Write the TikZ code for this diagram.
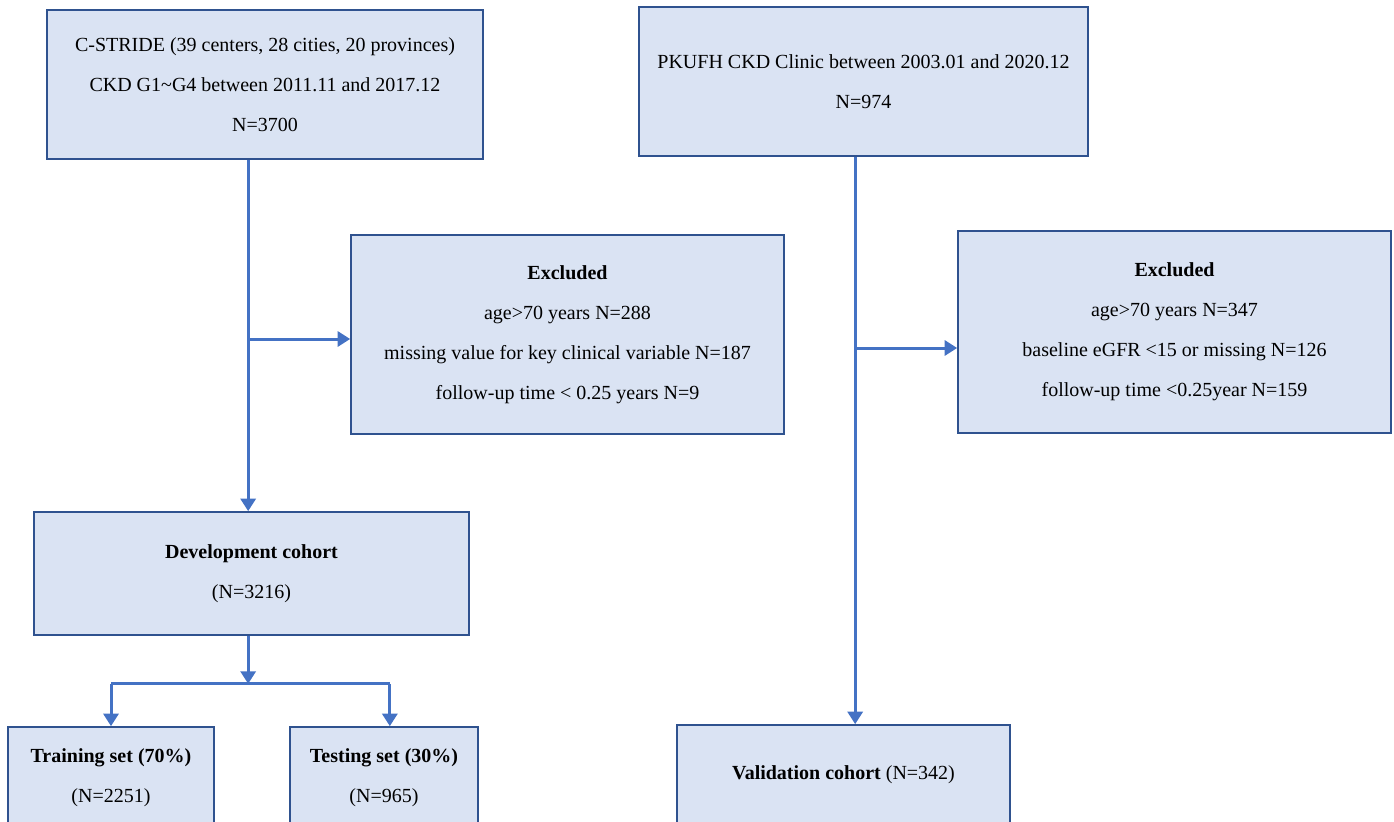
\documentclass[tikz,border=0pt]{standalone}
\usepackage{fontspec}
\setmainfont{Liberation Serif}
\usetikzlibrary{arrows.meta}
\definecolor{boxfill}{HTML}{DAE3F3}
\definecolor{boxline}{HTML}{2F528F}
\definecolor{arrline}{HTML}{4472C4}
\tikzset{
  box/.style={draw=boxline,line width=1pt,fill=boxfill,align=center,
    font=\fontsize{12}{24}\selectfont,inner sep=2pt},
  arr/.style={draw=arrline,line width=1.8pt,-{Triangle[length=7.5pt,width=9pt]}},
  seg/.style={draw=arrline,line width=1.8pt}
}
\begin{document}
\begin{tikzpicture}[x=0.6pt,y=-0.6pt]
  \clip (0,0) rectangle (1394,822);
  % source boxes
  \node[box,minimum width=261.6pt,minimum height=89.4pt] (cstride) at (265,84.5)
    {C-STRIDE (39 centers, 28 cities, 20 provinces)\\CKD G1\textasciitilde G4 between 2011.11 and 2017.12\\N=3700};
  \node[box,minimum width=269.4pt,minimum height=89.4pt] (pkufh) at (863.5,81.5)
    {PKUFH CKD Clinic between 2003.01 and 2020.12\\N=974};
  % excluded boxes
  \node[box,minimum width=259.8pt,minimum height=119.4pt] (exclA) at (567.5,334.5)
    {\textbf{Excluded}\\age>70 years N=288\\missing value for key clinical variable N=187\\follow-up time < 0.25 years N=9};
  \node[box,minimum width=259.8pt,minimum height=121.2pt] (exclB) at (1174.5,332)
    {\textbf{Excluded}\\age>70 years N=347\\baseline eGFR <15 or missing N=126\\follow-up time <0.25year N=159};
  % cohorts
  \node[box,minimum width=261pt,minimum height=73.8pt] (dev) at (251.5,573.5)
    {\textbf{Development cohort}\\(N=3216)};
  \node[box,minimum width=123.6pt,minimum height=61.2pt] (train) at (111,778)
    {\textbf{Training set (70\%)}\\(N=2251)};
  \node[box,minimum width=112.8pt,minimum height=61.2pt] (test) at (384,778)
    {\textbf{Testing set (30\%)}\\(N=965)};
  \node[box,minimum width=199.8pt,minimum height=60pt] (valid) at (843.5,775)
    {\textbf{Validation cohort} (N=342)};
  % connectors
  \coordinate (trunkA) at ([xshift=-2pt]dev.north);
  \coordinate (trunkB) at ([xshift=-5pt]pkufh.south);
  \coordinate (brA) at ([yshift=-2.7pt]exclA.west);
  \coordinate (brB) at ([yshift=-9.6pt]exclB.west);
  \draw[arr] (cstride.south -| trunkA) -- (trunkA);
  \draw[arr] (brA -| trunkA) -- (brA);
  \draw[arr] (trunkB) -- (trunkB |- valid.north);
  \draw[arr] (brB -| trunkB) -- (brB);
  \draw[arr] (dev.south -| trunkA) -- ++(0,48) coordinate (split);
  \coordinate (legT) at ([xshift=3.5pt]test.north);
  \draw[seg] (train.north |- split) -- (legT |- split);
  \draw[arr] (train.north |- split) -- (train.north);
  \draw[arr] (legT |- split) -- (legT);
\end{tikzpicture}
\end{document}
